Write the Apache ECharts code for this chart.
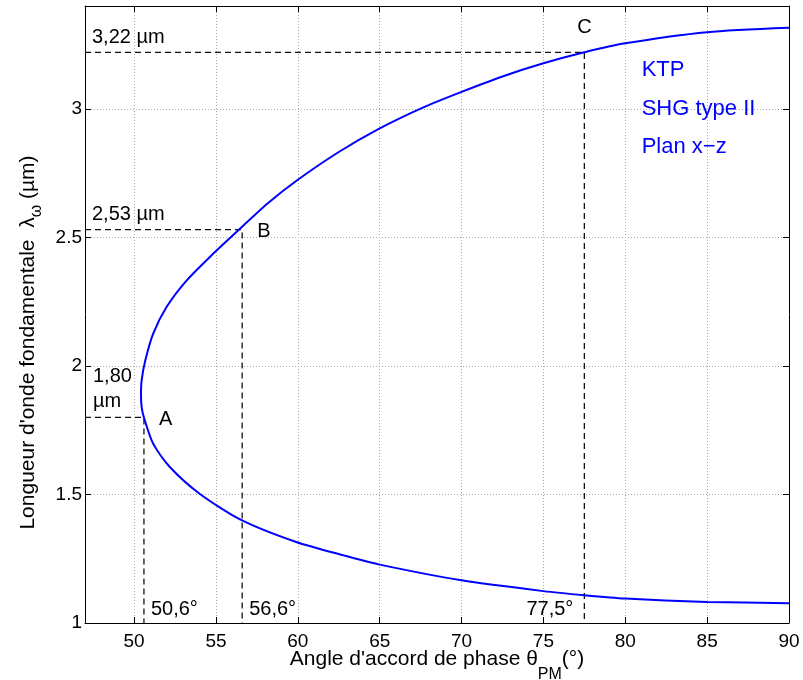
<!DOCTYPE html>
<html>
<head>
<meta charset="utf-8">
<script src="https://cdn.jsdelivr.net/npm/echarts@6/dist/echarts.min.js"></script>
<style>
html,body{margin:0;padding:0;background:#fff;}
#main{width:803px;height:680px;}
</style>
</head>
<body>
<div id="main"></div>
<script>
// ---- data ----
const curveTheta = [90, 85, 80, 77.5, 75, 70, 65, 62.8, 59.9, 56.5, 54.0, 52.18, 51.16, 50.62, 50.46, 50.42, 50.46, 50.68, 51.16, 51.98, 53.2, 54.82, 56.4, 58.15, 60.0, 62.5, 65.0, 67.6, 70.0, 72.5, 75, 77.5, 80, 85, 90];
const curveLambda = [1.077, 1.082, 1.095, 1.108, 1.124, 1.166, 1.227, 1.263, 1.315, 1.402, 1.503, 1.607, 1.698, 1.795, 1.84, 1.89, 1.944, 2.021, 2.125, 2.229, 2.332, 2.436, 2.53, 2.632, 2.724, 2.832, 2.924, 3.004, 3.066, 3.126, 3.177, 3.22, 3.255, 3.298, 3.315];

const pointNames = ['A', 'B', 'C'];
const pointTheta = [50.6, 56.6, 77.5];
const pointLambda = [1.80, 2.53, 3.22];
const lambdaLabels = ['1,80\nµm', '2,53 µm', '3,22 µm'];
const thetaLabels = ['50,6°', '56,6°', '77,5°'];

const xTicks = [50, 55, 60, 65, 70, 75, 80, 85, 90];
const yTicks = [1, 1.5, 2, 2.5, 3];
const xRange = [47, 90];
const yRange = [1, 3.4];

const infoLines = ['KTP', 'SHG type II', 'Plan x−z'];
const infoTheta = 81;
const infoLambda = [3.15, 3.0, 2.85];

// ---- chart ----
const FONT = "'Liberation Sans', Arial, Helvetica, sans-serif";
const chart = echarts.init(document.getElementById('main'), null, {renderer: 'canvas'});

const curve = curveTheta.map((t, i) => [t, curveLambda[i]]);

const dashedSeries = pointTheta.map((t, i) => ({
  type: 'line',
  data: [[xRange[0], pointLambda[i]], [t, pointLambda[i]], [t, yRange[0]]],
  symbol: 'none',
  silent: true,
  lineStyle: {color: '#111', width: 1.3, type: [6, 4]},
  z: 3
}));

const gridLine = {show: true, lineStyle: {color: '#aaa', width: 1, type: [1, 2]}};

const option = {
  animation: false,
  backgroundColor: '#fff',
  grid: {left: 85, right: 14, top: 6, bottom: 57, containLabel: false, outerBoundsMode: 'none'},
  xAxis: [{
    type: 'value', min: xRange[0], max: xRange[1], position: 'bottom',
    axisLine: {show: true, onZero: false, lineStyle: {color: '#000', width: 1}},
    axisTick: {show: true, inside: true, length: 6, customValues: xTicks, lineStyle: {color: '#000'}},
    axisLabel: {show: true, customValues: xTicks, margin: 9, color: '#000', fontSize: 19, fontFamily: FONT},
    splitLine: gridLine,
    name: "Angle d'accord de phase θ{sub|PM}(°)",
    nameLocation: 'middle', nameGap: 12, nameMoveOverlap: false,
    nameTextStyle: {color: '#000', fontSize: 21, fontFamily: FONT,
      rich: {sub: {fontSize: 16, fontFamily: FONT, color: '#000', padding: [32, 0, 0, 0]}}}
  }, {
    type: 'value', min: xRange[0], max: xRange[1], position: 'top',
    axisLine: {show: true, onZero: false, lineStyle: {color: '#000', width: 1}},
    axisTick: {show: true, inside: true, length: 6, customValues: xTicks, lineStyle: {color: '#000'}},
    axisLabel: {show: false},
    splitLine: {show: false}
  }],
  yAxis: [{
    type: 'value', min: yRange[0], max: yRange[1], position: 'left',
    axisLine: {show: true, onZero: false, lineStyle: {color: '#000', width: 1}},
    axisTick: {show: true, inside: true, length: 6, customValues: yTicks, lineStyle: {color: '#000'}},
    axisLabel: {show: true, customValues: yTicks, margin: 3, color: '#000', fontSize: 19, fontFamily: FONT},
    splitLine: gridLine,
    name: "Longueur d'onde fondamentale  λ{sub|ω} (µm)",
    nameLocation: 'middle', nameGap: 40, nameRotate: 90, nameMoveOverlap: false,
    nameTextStyle: {color: '#000', fontSize: 21, fontFamily: FONT, padding: [0, 56, 0, 0],
      rich: {sub: {fontSize: 16, fontFamily: FONT, color: '#000', padding: [18, 0, 0, 0]}}}
  }, {
    type: 'value', min: yRange[0], max: yRange[1], position: 'right',
    axisLine: {show: true, onZero: false, lineStyle: {color: '#000', width: 1}},
    axisTick: {show: true, inside: true, length: 6, customValues: yTicks, lineStyle: {color: '#000'}},
    axisLabel: {show: false},
    splitLine: {show: false}
  }],
  series: [{
    type: 'line',
    data: curve,
    symbol: 'none',
    smooth: 0.25,
    silent: true,
    lineStyle: {color: '#0000ff', width: 2},
    z: 4
  }].concat(dashedSeries)
};

chart.setOption(option);

// ---- annotation texts anchored to data coordinates ----
function px(x, y) { return chart.convertToPixel({xAxisIndex: 0, yAxisIndex: 0}, [x, y]); }
const graphics = [];
const txt = (p, text, opts) => graphics.push({
  type: 'text', x: p[0], y: p[1], silent: true, z: 10,
  style: Object.assign({text: text, fill: '#000', font: '20px ' + FONT, textVerticalAlign: 'middle'}, opts.style || {})
});

pointNames.forEach((n, i) => {
  const p = px(pointTheta[i], pointLambda[i]);
  const left = px(xRange[0], pointLambda[i]);
  const bottom = px(pointTheta[i], yRange[0]);
  if (i < 2) {
    txt([p[0] + 15, p[1] + 2], n, {style: {textAlign: 'left'}});
  } else {
    txt([p[0], p[1] - 25], n, {style: {textAlign: 'center'}});
  }
  if (i === 0) {
    txt([left[0] + 8, left[1] - 28], lambdaLabels[i], {style: {textAlign: 'left', lineHeight: 25}});
  } else {
    txt([left[0] + 7, left[1] - 15], lambdaLabels[i], {style: {textAlign: 'left'}});
  }
  if (i < 2) {
    txt([bottom[0] + 7, bottom[1] - 14], thetaLabels[i], {style: {textAlign: 'left'}});
  } else {
    txt([bottom[0] - 11, bottom[1] - 14], thetaLabels[i], {style: {textAlign: 'right'}});
  }
});

infoLines.forEach((s, i) => {
  const p = px(infoTheta, infoLambda[i]);
  txt(p, s, {style: {textAlign: 'left', fill: '#0000ff', font: '22px ' + FONT}});
});

chart.setOption({graphic: graphics});
</script>
</body>
</html>
